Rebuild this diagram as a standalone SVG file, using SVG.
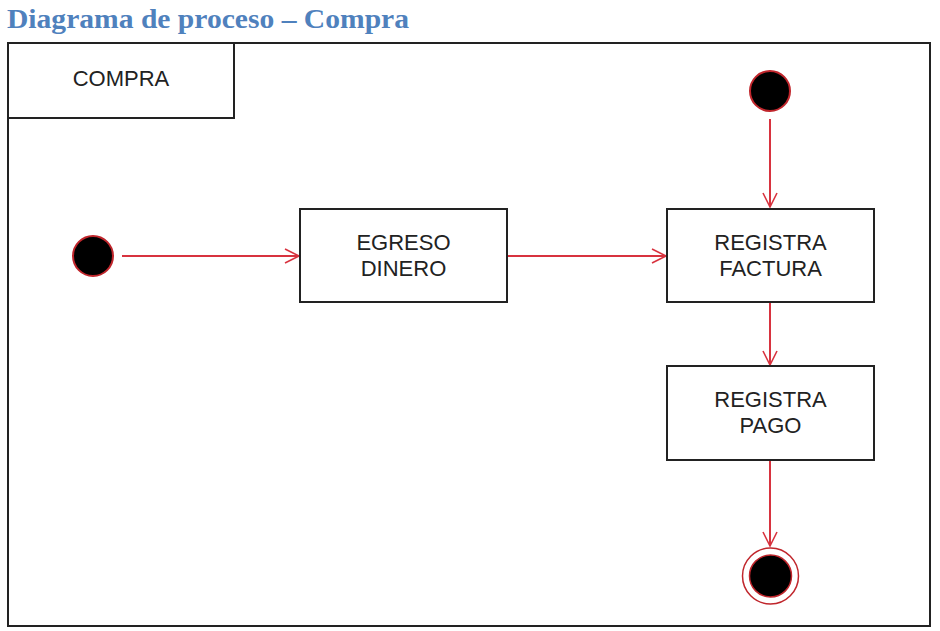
<svg xmlns="http://www.w3.org/2000/svg" width="940" height="631" viewBox="0 0 940 631">
<defs>
<style>
.title{font-family:"Liberation Serif",Cambria,serif;font-weight:bold;font-size:27px;fill:#4F81BD}
.frame{fill:none;stroke:#222;stroke-width:2}
.box{fill:#fff;stroke:#222;stroke-width:2}
.lbl{font-family:"Liberation Sans",Arial,sans-serif;font-size:22px;fill:#222;text-anchor:middle}
.start{fill:#000;stroke:#C0262C;stroke-width:2}
.edge{fill:none;stroke:#D8333F;stroke-width:2;marker-end:url(#arr)}
</style>
<marker id="arr" markerWidth="18" markerHeight="18" refX="15" refY="8" orient="auto" markerUnits="userSpaceOnUse">
<path d="M1,1 L15,8 L1,15" fill="none" stroke="#D8333F" stroke-width="1.6"/>
</marker>
</defs>
<rect width="940" height="631" fill="#fff"/>
<text class="title" x="7" y="28" textLength="402" lengthAdjust="spacingAndGlyphs">Diagrama de proceso – Compra</text>
<g id="frame">
<rect class="frame" x="8" y="43" width="922" height="583"/>
<rect class="frame" x="8" y="43" width="226" height="75"/>
<text class="lbl" x="121" y="86">COMPRA</text>
</g>
<g id="connectors">
<line class="edge" x1="122" y1="256" x2="299" y2="256"/>
<line class="edge" x1="508" y1="256" x2="666" y2="256"/>
<line class="edge" x1="770" y1="119" x2="770" y2="207"/>
<line class="edge" x1="770" y1="303" x2="770" y2="365"/>
<line class="edge" x1="770" y1="461" x2="770" y2="546"/>
</g>
<g id="start1"><circle class="start" cx="93" cy="256" r="20"/></g>
<g id="start2"><circle class="start" cx="770" cy="91" r="20"/></g>
<g id="egreso">
<rect class="box" x="300" y="209" width="207" height="93"/>
<text class="lbl" x="403.5" y="250">EGRESO</text>
<text class="lbl" x="403.5" y="276">DINERO</text>
</g>
<g id="factura">
<rect class="box" x="667" y="209" width="207" height="93"/>
<text class="lbl" x="770.5" y="250">REGISTRA</text>
<text class="lbl" x="770.5" y="276">FACTURA</text>
</g>
<g id="pago">
<rect class="box" x="667" y="366" width="207" height="94"/>
<text class="lbl" x="770.5" y="407">REGISTRA</text>
<text class="lbl" x="770.5" y="433">PAGO</text>
</g>
<g id="end">
<circle cx="770.5" cy="576" r="28" fill="#fff" stroke="#C0262C" stroke-width="1.5"/>
<circle cx="770.5" cy="576" r="21" fill="#000" stroke="#C0262C" stroke-width="1.5"/>
</g>
</svg>
